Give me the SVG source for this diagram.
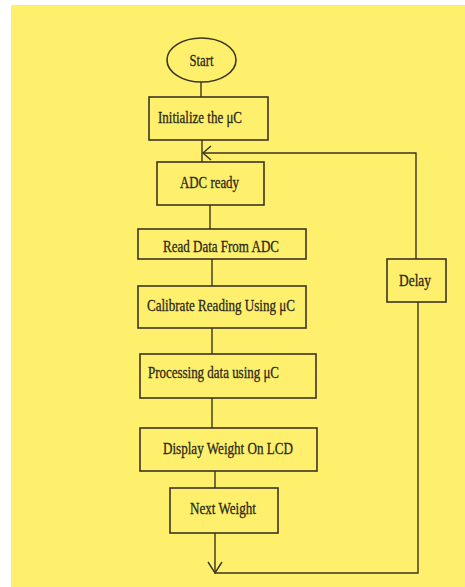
<svg xmlns="http://www.w3.org/2000/svg" width="465" height="587" viewBox="0 0 465 587">
<style>
.bx{fill:none;stroke:#3b3522;stroke-width:1.6}
.ln{fill:none;stroke:#3b3522;stroke-width:1.4}
.t{font-family:"Liberation Serif","Times New Roman",serif;font-size:17px;fill:#2b2818;stroke:#2b2818;stroke-width:0.3;text-anchor:middle}
</style>
<rect x="0" y="0" width="465" height="587" fill="#ffffff"/>
<rect x="11" y="5" width="454" height="582" fill="#fef06c"/>
<g id="connectors">
<line class="ln" x1="201" y1="82" x2="201" y2="97"/>
<line class="ln" x1="202" y1="140" x2="202" y2="162"/>
<polyline class="ln" points="416,259 416,153 203,153"/>
<polyline class="ln" points="211,146 203,153 211,160"/>
<line class="ln" x1="210" y1="205" x2="210" y2="229"/>
<line class="ln" x1="212" y1="259" x2="212" y2="286"/>
<line class="ln" x1="212" y1="328" x2="212" y2="354"/>
<line class="ln" x1="212" y1="398" x2="212" y2="428"/>
<line class="ln" x1="215" y1="471" x2="215" y2="488"/>
<polyline class="ln" points="215,533 215,573 418,573 418,302"/>
<polyline class="ln" points="208,562 215,573 222,562"/>
</g>
<g id="start">
<ellipse class="bx" cx="201.5" cy="60" rx="34.5" ry="22"/>
<text class="t" x="201.5" y="66" textLength="24" lengthAdjust="spacingAndGlyphs">Start</text>
</g>
<g id="init">
<rect class="bx" x="149" y="97" width="119" height="43"/>
<text class="t" x="200" y="123" textLength="84" lengthAdjust="spacingAndGlyphs">Initialize the μC</text>
</g>
<g id="adc">
<rect class="bx" x="157" y="162" width="107" height="43"/>
<text class="t" x="209.5" y="188" textLength="59" lengthAdjust="spacingAndGlyphs">ADC ready</text>
</g>
<g id="read">
<rect class="bx" x="138" y="229" width="168" height="30"/>
<text class="t" x="221" y="252" textLength="116" lengthAdjust="spacingAndGlyphs">Read Data From ADC</text>
</g>
<g id="calibrate">
<rect class="bx" x="138" y="286" width="168" height="42"/>
<text class="t" x="221" y="311" textLength="148" lengthAdjust="spacingAndGlyphs">Calibrate Reading Using μC</text>
</g>
<g id="processing">
<rect class="bx" x="140" y="354" width="176" height="44"/>
<text class="t" x="213.5" y="378" textLength="131" lengthAdjust="spacingAndGlyphs">Processing data using μC</text>
</g>
<g id="display">
<rect class="bx" x="140" y="428" width="177" height="43"/>
<text class="t" x="228" y="454" textLength="130" lengthAdjust="spacingAndGlyphs">Display Weight On LCD</text>
</g>
<g id="next">
<rect class="bx" x="170" y="488" width="108" height="45"/>
<text class="t" x="223" y="514" textLength="66" lengthAdjust="spacingAndGlyphs">Next Weight</text>
</g>
<g id="delay">
<rect class="bx" x="387" y="259" width="59" height="43"/>
<text class="t" x="415" y="286" textLength="32" lengthAdjust="spacingAndGlyphs">Delay</text>
</g>
</svg>
